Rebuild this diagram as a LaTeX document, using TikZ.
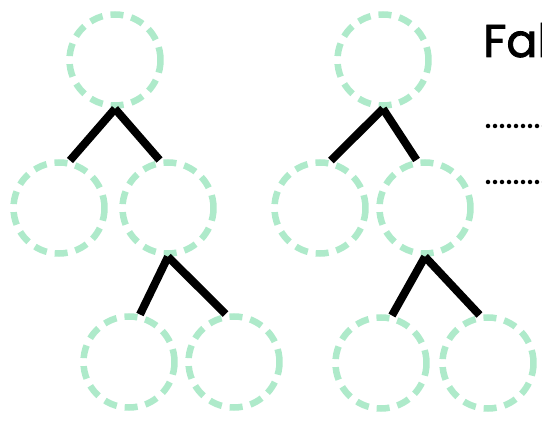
\documentclass[tikz,border=0pt]{standalone}
\usepackage{fontspec}
\setmainfont{Poppins}
\newfontfamily\titlefont{Poppins}[FakeBold=1.8]
\usepackage{tikz}
\usetikzlibrary{positioning}
\definecolor{mint}{HTML}{AEEACA}

\begin{document}
\begin{tikzpicture}[
    x=1pt, y=-1pt,
    treenode/.style={draw=mint, circle, dashed, dash pattern=on 13pt off 8pt, line width=6.5pt, minimum size=91pt, inner sep=0pt},
    branch/.style={draw=black, line width=8pt},
    blankline/.style={draw=black, line width=4.5pt, line cap=round, dash pattern=on 0pt off 7pt}
]
    \useasboundingbox (0,0) rectangle (542,422);

    % Primo albero
    \node[treenode] (a0) at (115, 60) {};
    \node[treenode] (a1) at (59, 208) {};
    \node[treenode] (a2) at (168, 208) {};
    \node[treenode] (a3) at (129, 362) {};
    \node[treenode] (a4) at (234, 362) {};

    \draw[branch] (a0.south) -- (a1.77);
    \draw[branch] (a0.south) -- (a2.100);
    \draw[branch] (a2.south) -- (a3.77);
    \draw[branch] (a2.south) -- (a4.100);

    % Secondo albero
    \node[treenode] (b0) at (383, 60) {};
    \node[treenode] (b1) at (320, 208) {};
    \node[treenode] (b2) at (425, 208) {};
    \node[treenode] (b3) at (381, 363) {};
    \node[treenode] (b4) at (488, 363) {};

    \draw[branch] (b0.south) -- (b1.77);
    \draw[branch] (b0.south) -- (b2.100);
    \draw[branch] (b2.south) -- (b3.77);
    \draw[branch] (b2.south) -- (b4.100);

    % Testo e righe da completare
    \node[anchor=base west, inner sep=0pt, font=\titlefont\fontsize{46}{46}\selectfont] (title) at (483, 57) {Fal};
    \coordinate (d1) at (488, 126);
    \coordinate (d2) at (488, 182);
    \draw[blankline] (d1) -- ++(70, 0);
    \draw[blankline] (d2) -- ++(70, 0);
\end{tikzpicture}
\end{document}
